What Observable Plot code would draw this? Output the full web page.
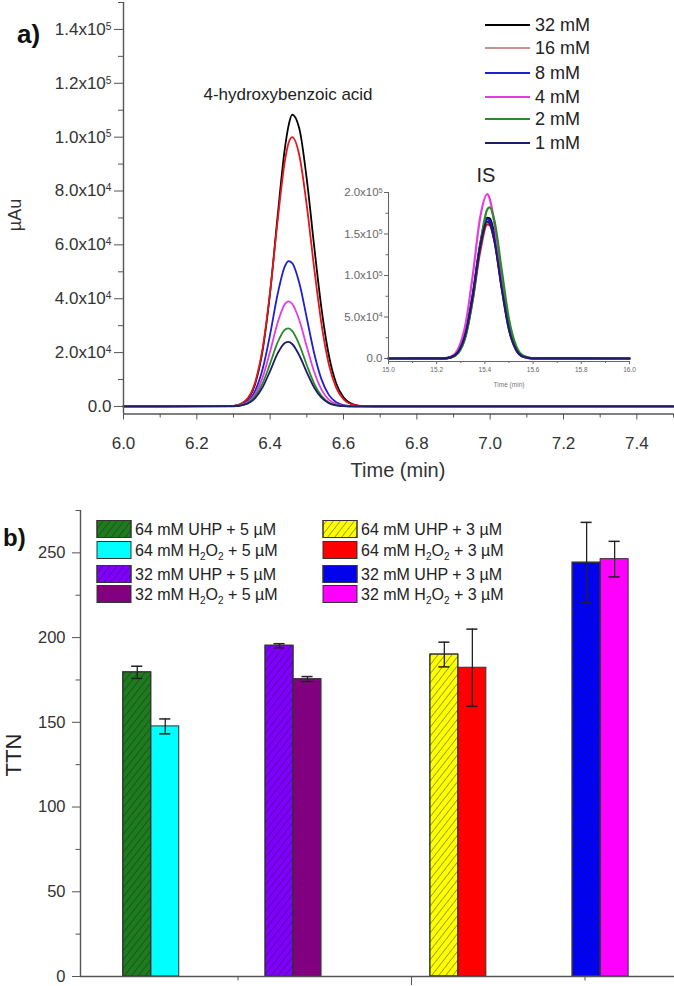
<!DOCTYPE html>
<html><head><meta charset="utf-8">
<script src="https://cdn.jsdelivr.net/npm/d3@7"></script>
<script src="https://cdn.jsdelivr.net/npm/@observablehq/plot@0.6"></script>
<style>
body{margin:0;background:#fff;font-family:"Liberation Sans",Arial,sans-serif;}
#wrap{position:relative;width:674px;height:986px;overflow:hidden;background:#fff;}
#wrap > svg{position:absolute;left:0;}
</style></head><body><div id="wrap"></div>
<script>
// ================= DATA: panel a (chromatograms) =================
const concLabels = ["32 mM","16 mM","8 mM","4 mM","2 mM","1 mM"];
const timeMain = [6.0, 6.30, 6.33, 6.36, 6.38, 6.40, 6.42, 6.44, 6.45, 6.46, 6.48, 6.50, 6.52, 6.54, 6.56, 6.58, 6.60, 6.63, 6.66, 6.70, 7.50];
const au32 = [0, 200, 1660, 8800, 21300, 42500, 70100, 95700, 104200, 108400, 102900, 84200, 59500, 36300, 19000, 8600, 3370, 620, 100, 0, 0];
const au16 = [0, 240, 1850, 9400, 22000, 42700, 68500, 91000, 97700, 100000, 92900, 74400, 51400, 30600, 15700, 7000, 2700, 480, 80, 0, 0];
const au8  = [0, 140, 1160, 6060, 14160, 26860, 41460, 52000, 53950, 53250, 45560, 32750, 19780, 10050, 4300, 1540, 470, 60, 0, 0, 0];
const au4  = [0, 117, 950, 4820, 11000, 20460, 30910, 38000, 39000, 38130, 31820, 22140, 12860, 6240, 2520, 850, 240, 30, 0, 0, 0];
const au2  = [0, 100, 800, 3920, 8790, 16000, 23680, 28520, 28990, 28030, 22760, 15310, 8520, 3920, 1500, 470, 120, 0, 0, 0, 0];
const au1  = [0, 80, 660, 3240, 7270, 13240, 19600, 23600, 24000, 23200, 18840, 12670, 7050, 3240, 1240, 390, 100, 0, 0, 0, 0];

const timeIS = [15.0, 15.23, 15.26, 15.29, 15.32, 15.35, 15.38, 15.41, 15.42, 15.44, 15.47, 15.50, 15.53, 15.56, 15.60, 16.0];
const is32 = [0, 150, 1480, 7860, 29060, 74900, 134900, 169400, 168700, 148400, 90700, 38700, 11540, 2390, 210, 0];
const is16 = [0, 130, 1410, 7490, 27700, 71400, 128600, 161500, 160800, 141500, 86500, 36900, 11000, 2280, 200, 0];
const is8  = [0, 170, 1660, 8570, 30900, 77900, 136900, 168000, 165800, 143600, 85700, 35600, 10400, 2100, 150, 0];
const is4  = [0, 300, 2480, 12200, 42000, 101000, 169300, 198000, 192400, 161400, 91800, 36400, 10100, 1960, 130, 0];
const is2  = [0, 100, 1240, 6860, 26660, 72200, 136300, 179700, 182000, 165300, 106000, 47400, 14800, 3230, 300, 0];
const is1  = [0, 160, 1630, 8420, 30350, 76500, 134400, 165000, 162800, 141000, 84200, 35000, 10200, 2060, 150, 0];

const yTicksMain = [0, 20000, 40000, 60000, 80000, 100000, 120000, 140000];
const yTickLabelsMain = ["0.0", "2.0x10^4", "4.0x10^4", "6.0x10^4", "8.0x10^4", "1.0x10^5", "1.2x10^5", "1.4x10^5"];
const yMinorMain = [10000, 30000, 50000, 70000, 90000, 110000, 130000, 150000];
const xTicksMain = [6.0, 6.2, 6.4, 6.6, 6.8, 7.0, 7.2, 7.4];
const xMinorMain = [6.1, 6.3, 6.5, 6.7, 6.9, 7.1, 7.3, 7.5];

const yTicksIS = [0, 50000, 100000, 150000, 200000];
const yTickLabelsIS = ["0.0", "5.0x10^4", "1.0x10^5", "1.5x10^5", "2.0x10^5"];
const yMinorIS = [25000, 75000, 125000, 175000];
const xTicksIS = [15.0, 15.2, 15.4, 15.6, 15.8, 16.0];
const xMinorIS = [15.1, 15.3, 15.5, 15.7, 15.9];

// ================= DATA: panel b (TTN) =================
const ttnLabels = ["64 mM UHP + 5 µM", "64 mM H2O2 + 5 µM", "32 mM UHP + 5 µM", "32 mM H2O2 + 5 µM",
                   "64 mM UHP + 3 µM", "64 mM H2O2 + 3 µM", "32 mM UHP + 3 µM", "32 mM H2O2 + 3 µM"];
const ttnOxidant = ["UHP", "H2O2", "UHP", "H2O2", "UHP", "H2O2", "UHP", "H2O2"];
const ttnGroupX = [1.25, 1.25, 1.66, 1.66, 2.135, 2.135, 2.545, 2.545];
const ttnValue = [179.5, 147.6, 195.2, 175.5, 190.0, 182.2, 244.2, 246.3];
const ttnError = [3.6, 4.4, 1.2, 1.5, 7.3, 22.8, 23.8, 10.5];
const xTicksB = [1.5, 2.5];
const xMajorB = [2.0];
const yTicksB = [0, 50, 100, 150, 200, 250];
const yMinorB = [25, 75, 125, 175, 225, 275];

// ================= STYLES =================
const lineColors = ["#000000", "#e3161b", "#1f1fd0", "#e23ce2", "#2a8a2a", "#1c1c6a"];
const legendLineColors = ["#000000", "#b86e68", "#1f1fd0", "#e23ce2", "#2a8a2a", "#1c1c6a"];
const barColors = ["#1e7c1e", "#00ffff", "#7f00ff", "#800080", "#ffff00", "#ff0000", "#0000ff", "#ff00ff"];
const FONT = "Liberation Sans, Arial, sans-serif";
const barHalf = 0.0807;   // bar width in x units
const capHalf = 0.016;
const xDomB = [1.0461, 2.7579];
const yMainMin = -2800, yISMin = -3600;

// ================= helpers =================
const NS = "http://www.w3.org/2000/svg";
function superscriptify(svg) {
  svg.querySelectorAll("text").forEach(t => {
    const s = t.textContent;
    const i = s.indexOf("^");
    if (i >= 0) {
      t.textContent = s.slice(0, i);
      const sp = document.createElementNS(NS, "tspan");
      sp.setAttribute("dy", "-0.5em");
      sp.setAttribute("font-size", "0.6em");
      sp.textContent = s.slice(i + 1);
      t.appendChild(sp);
    }
  });
}
const wrap = document.getElementById("wrap");

// ================= panel a main =================
const auSeries = [au32, au16, au8, au4, au2, au1];
const mainRows = auSeries.flatMap((arr, i) => arr.map((v, j) => ({t: timeMain[j], v, s: concLabels[i]})));
const isSeries = [is32, is16, is8, is4, is2, is1];
const isRows = isSeries.flatMap((arr, i) => arr.map((v, j) => ({t: timeIS[j], v, s: concLabels[i]})));

const main = Plot.plot({
  width: 674, height: 480,
  marginLeft: 123, marginRight: 1, marginTop: 2, marginBottom: 66.5,
  x: {domain: [6.0, 7.5]},
  y: {domain: [yMainMin, 150000]},
  color: {domain: concLabels, range: lineColors},
  style: {fontFamily: FONT, background: "transparent", color: "#333", overflow: "visible"},
  marks: [
    Plot.axisY({ticks: yTicksMain, tickFormat: d => yTickLabelsMain[yTicksMain.indexOf(d)], tickSize: 9, tickPadding: 3, fontSize: 17, label: null, stroke: "#555"}),
    Plot.axisY({ticks: yMinorMain, tickFormat: () => "", tickSize: 5, label: null, stroke: "#555"}),
    Plot.axisX({ticks: xTicksMain, tickFormat: d => d.toFixed(1), tickSize: 6, tickPadding: 17, fontSize: 17, label: null, stroke: "#555"}),
    Plot.axisX({ticks: xMinorMain, tickFormat: () => "", tickSize: 4, label: null, stroke: "#555"}),
    Plot.line(mainRows, {x: "t", y: "v", z: "s", stroke: "s", curve: "monotone-x", strokeWidth: 1.8}),
    Plot.ruleX([6.0], {stroke: "#555", strokeWidth: 1.4}),
    Plot.ruleY([yMainMin], {stroke: "#555", strokeWidth: 1.4})
  ]
});
main.style.top = "0px";
superscriptify(main);
wrap.appendChild(main);

// ================= panel a inset =================
const inset = Plot.plot({
  width: 674, height: 240,
  marginLeft: 388, marginRight: 45, marginTop: 32, marginBottom: 39,
  x: {domain: [15.0, 16.0]},
  y: {domain: [yISMin, 200000]},
  color: {domain: concLabels, range: lineColors},
  style: {fontFamily: FONT, background: "transparent", color: "#666", overflow: "visible"},
  marks: [
    Plot.axisY({ticks: yTicksIS, tickFormat: d => yTickLabelsIS[yTicksIS.indexOf(d)], tickSize: 4, tickPadding: 2, fontSize: 11.5, label: null, stroke: "#666"}),
    Plot.axisY({ticks: yMinorIS, tickFormat: () => "", tickSize: 2.5, label: null, stroke: "#666"}),
    Plot.axisX({ticks: xTicksIS, tickFormat: d => d.toFixed(1), tickSize: 3, tickPadding: 3, fontSize: 6.5, label: null, stroke: "#666"}),
    Plot.axisX({ticks: xMinorIS, tickFormat: () => "", tickSize: 2, label: null, stroke: "#666"}),
    Plot.line(isRows, {x: "t", y: "v", z: "s", stroke: "s", curve: "monotone-x", strokeWidth: 2.2}),
    Plot.ruleX([15.0], {stroke: "#666", strokeWidth: 1.1}),
    Plot.ruleY([yISMin], {stroke: "#666", strokeWidth: 1.1})
  ]
});
inset.style.top = "160px";
superscriptify(inset);
wrap.appendChild(inset);

// ================= panel b =================
const barRows = ttnValue.map((v, i) => {
  const left = i % 2 === 0;
  const g = ttnGroupX[i];
  return {
    label: ttnLabels[i], ox: ttnOxidant[i], v, e: ttnError[i], color: barColors[i],
    x1: left ? g - barHalf : g, x2: left ? g : g + barHalf,
    xc: left ? g - barHalf / 2 : g + barHalf / 2
  };
});
const capRows = barRows.flatMap(d => [{xc: d.xc, y: d.v + d.e}, {xc: d.xc, y: d.v - d.e}]);

const bottom = Plot.plot({
  width: 674, height: 486,
  marginLeft: 80, marginRight: 0, marginTop: 10, marginBottom: 10,
  x: {domain: xDomB},
  y: {domain: [0, 275]},
  color: {type: "identity"},
  style: {fontFamily: FONT, background: "transparent", color: "#333", overflow: "visible"},
  marks: [
    Plot.axisY({ticks: yTicksB, tickSize: 8, tickPadding: 7, fontSize: 16.5, label: null, stroke: "#555"}),
    Plot.axisY({ticks: yMinorB, tickFormat: () => "", tickSize: 4.5, label: null, stroke: "#555"}),
    Plot.axisX({ticks: xTicksB, tickFormat: () => "", tickSize: 4.5, label: null, stroke: "#555"}),
    Plot.axisX({ticks: xMajorB, tickFormat: () => "", tickSize: 9, label: null, stroke: "#555"}),
    Plot.rect(barRows, {x1: "x1", x2: "x2", y1: 0, y2: "v", fill: "color", stroke: "#333", strokeWidth: 1}),
    Plot.rect(barRows.filter(d => d.ox === "UHP"), {x1: "x1", x2: "x2", y1: 0, y2: "v", fill: "url(#hatchB)", stroke: "#333", strokeWidth: 1}),
    Plot.ruleX(barRows, {x: "xc", y1: d => d.v - d.e, y2: d => d.v + d.e, stroke: "#222", strokeWidth: 1.3}),
    Plot.ruleY(capRows, {y: "y", x1: d => d.xc - capHalf, x2: d => d.xc + capHalf, stroke: "#222", strokeWidth: 1.5}),
    Plot.ruleX([xDomB[0]], {stroke: "#555", strokeWidth: 1.4}),
    Plot.ruleY([0], {stroke: "#555", strokeWidth: 1.4})
  ]
});
bottom.style.top = "500px";
wrap.appendChild(bottom);

// ================= overlay: titles & legends =================
const ov = document.createElementNS(NS, "svg");
ov.setAttribute("width", 674); ov.setAttribute("height", 986);
ov.style.top = "0px"; ov.style.pointerEvents = "none";
ov.setAttribute("font-family", FONT);
function el(tag, attrs, text) {
  const e = document.createElementNS(NS, tag);
  for (const k in attrs) e.setAttribute(k, attrs[k]);
  if (text != null) e.textContent = text;
  ov.appendChild(e);
  return e;
}
ov.innerHTML = `<defs><pattern id="hatchB" patternUnits="userSpaceOnUse" width="5.5" height="5.5" patternTransform="rotate(38)">
  <line x1="0" y1="0" x2="0" y2="5.5" stroke="#1a1a1a" stroke-width="1.1" stroke-opacity="0.7"/></pattern></defs>`;

el("text", {x: 17, y: 43, "font-size": 26, "font-weight": "bold", fill: "#111"}, "a)");
el("text", {x: 3, y: 546, "font-size": 24, "font-weight": "bold", fill: "#111"}, "b)");
el("text", {x: 15, y: 215, "font-size": 18, fill: "#333", "text-anchor": "middle", "dominant-baseline": "central", transform: "rotate(-90 15 215)"}, "µAu");
el("text", {x: 398, y: 470, "font-size": 20, fill: "#333", "text-anchor": "middle", "dominant-baseline": "central"}, "Time (min)");
el("text", {x: 288, y: 100, "font-size": 17, fill: "#222", "text-anchor": "middle"}, "4-hydroxybenzoic acid");
el("text", {x: 486, y: 182, "font-size": 20, fill: "#222", "text-anchor": "middle"}, "IS");
el("text", {x: 509, y: 384, "font-size": 6.5, fill: "#777", "text-anchor": "middle", "dominant-baseline": "central"}, "Time (min)");
el("text", {x: 13, y: 755, "font-size": 22, fill: "#222", "text-anchor": "middle", "dominant-baseline": "central", transform: "rotate(-90 13 755)"}, "TTN");

// legend panel a
const legRowsA = [25, 48, 73, 97, 119, 143];
concLabels.forEach((lab, i) => {
  el("line", {x1: 485, x2: 530, y1: legRowsA[i], y2: legRowsA[i], stroke: legendLineColors[i], "stroke-width": i === 1 ? 1.4 : 2});
  el("text", {x: 535, y: legRowsA[i], "font-size": 18, fill: "#222", "dominant-baseline": "central"}, lab);
});

// legend panel b
const legRowsB = [529, 550, 574, 594];
ttnLabels.forEach((lab, i) => {
  const col = i < 4 ? 0 : 1;
  const row = i % 4;
  const bx = col === 0 ? 97 : 323;
  const cy = legRowsB[row];
  el("rect", {x: bx, y: cy - 8.5, width: 34, height: 17, fill: barColors[i], stroke: "#333", "stroke-width": 1});
  if (ttnOxidant[i] === "UHP") el("rect", {x: bx, y: cy - 8.5, width: 34, height: 17, fill: "url(#hatchB)", stroke: "#333", "stroke-width": 1});
  const t = el("text", {x: bx + 38, y: cy + 6, "font-size": 16, fill: "#222"});
  const parts = lab.split(/(2)(?=O|\s\+)/);
  // render H2O2 with subscripts
  const m = lab.match(/^(.*?)H2O2(.*)$/);
  if (m) {
    const add = (txt, sub) => {
      const s = document.createElementNS(NS, "tspan");
      s.textContent = txt;
      if (sub) { s.setAttribute("font-size", 10); s.setAttribute("dy", 4); }
      else if (sub === false) { s.setAttribute("dy", -4); }
      t.appendChild(s);
    };
    add(m[1] + "H");
    add("2", true); add("O", false); add("2", true); add(m[2], false);
  } else {
    t.textContent = lab;
  }
});
wrap.appendChild(ov);
</script></body></html>
